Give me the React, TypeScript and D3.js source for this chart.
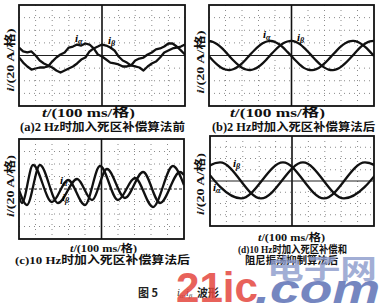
import React from 'react';
import * as d3 from 'd3';

// ---------- data (values in oscilloscope divisions) ----------
const SAMPLE_T = d3.range(0, 10.001, 0.25);

const A_ALPHA = [-0.16, -0.56, -0.87, -1.11, -1.03, -0.95, -0.95, -0.87, -0.48, -0.16, 0.08, 0.24, 0.63, 0.71, 0.87, 0.79, 0.95, 0.87, 0.56, 0.08, -0.08, -0.32, -0.56, -0.63, -0.71, -0.87, -0.87, -0.79, -0.4, -0.24, -0.16, 0.08, 0.24, 0.48, 0.56, 0.71, 0.95, 0.95, 0.71, 0.4, 0.08];
const A_BETA = [0.63, 0.32, 0.24, 0.32, 0, -0.4, -0.63, -0.79, -0.95, -1.19, -1.35, -1.19, -1.03, -0.87, -0.63, -0.32, -0.16, 0.32, 0.56, 0.71, 0.87, 0.79, 0.63, 0.4, -0.08, -0.4, -0.56, -0.79, -0.87, -0.95, -1.19, -0.87, -0.63, -0.48, -0.16, 0.24, 0.4, 0.56, 0.63, 0.71, 0.87];

const B_ALPHA = [-0.07, -0.42, -0.73, -0.97, -1.11, -1.15, -1.07, -0.89, -0.62, -0.29, 0.07, 0.42, 0.73, 0.97, 1.11, 1.15, 1.07, 0.89, 0.62, 0.29,
  -0.05, -0.4, -0.72, -0.98, -1.12, -1.16, -1.08, -0.9, -0.63, -0.3, 0.06, 0.41, 0.72, 0.96, 1.12, 1.16, 1.08, 0.9, 0.64, 0.31, -0.04];
const B_BETA = [1.15, 1.07, 0.89, 0.62, 0.29, -0.07, -0.42, -0.73, -0.97, -1.11, -1.15, -1.07, -0.89, -0.62, -0.29, 0.07, 0.42, 0.73, 0.97, 1.11,
  1.16, 1.08, 0.9, 0.63, 0.3, -0.06, -0.41, -0.72, -0.96, -1.12, -1.16, -1.08, -0.9, -0.63, -0.3, 0.06, 0.42, 0.74, 0.98, 1.12, 1.16];

const C_ALPHA_T = [0, 0.18, 0.85, 2.0, 2.97, 4.0, 4.91, 6.0, 7.03, 8.12, 9.33, 10];
const C_ALPHA_V = [-0.56, -1.12, 1.92, -1.04, 0.72, -1.28, 1.84, -0.88, 0.88, -1.44, 1.84, 0.32];
const C_BETA_T = [0, 0.48, 1.27, 2.36, 3.52, 4.42, 5.33, 6.42, 7.52, 8.55, 9.76, 10];
const C_BETA_V = [-0.08, -1.28, 1.92, -1.12, 0.8, -0.88, 1.6, -0.72, 1.36, -1.12, 1.36, 1.12];

const D_ALPHA_T = [-0.61, 1.89, 4.45, 6.95, 9.45, 11.95];
const D_ALPHA_V = [1.65, -1.55, 1.65, -1.55, 1.65, -1.55];
const D_BETA_T = [-1.89, 0.61, 3.11, 5.67, 8.17, 10.67];
const D_BETA_V = [-1.55, 1.65, -1.55, 1.65, -1.55, 1.65];

const CAPTIONS = ['(a)2 Hz时加入死区补偿算法前', '(b)2 Hz时加入死区补偿算法后', '(c)10 Hz时加入死区补偿算法后', '(d)10 Hz时加入死区补偿和', '阻尼振荡抑制算法后'];
const X_LABEL_UNIT = '/(100 ms/格)';
const Y_LABEL_UNIT = '/(20 A/格)';
const FIG_CAPTION = '图 5';
const FIG_TAIL = '波形';

// ---------- layout ----------
const FONT = '"Liberation Serif","Noto Sans CJK SC",serif';
const CJK = '"Noto Sans CJK SC","Liberation Serif",serif';

const zip = (t: number[], v: number[]) => t.map((tt, i) => [tt, v[i]] as [number, number]);

const PANELS = [
  {
    id: 'a', x0: 19, x1: 185, y0: 5, y1: 106, dashedZero: false, curve: d3.curveLinear,
    series: [zip(SAMPLE_T, A_ALPHA), zip(SAMPLE_T, A_BETA)],
    yl: { x: 10, cy: 60, len: 63 }, xl: { x: 42, y: 117, len: 93, fs: 12 },
    caps: [{ x: 20, y: 131, len: 165, fs: 11.5 }],
    lab: [{ x: 75, y: 42, s: 'α' }, { x: 108, y: 44, s: 'β' }],
  },
  {
    id: 'b', x0: 209, x1: 374, y0: 5, y1: 106, dashedZero: false, curve: d3.curveCatmullRom,
    series: [zip(SAMPLE_T, B_ALPHA), zip(SAMPLE_T, B_BETA)],
    yl: { x: 200, cy: 62, len: 63 }, xl: { x: 230, y: 117, len: 95, fs: 12 },
    caps: [{ x: 212, y: 131, len: 163, fs: 11.5 }],
    lab: [{ x: 263, y: 38, s: 'α' }, { x: 297, y: 41, s: 'β' }],
  },
  {
    id: 'c', x0: 19, x1: 184, y0: 139, y1: 239, dashedZero: true, curve: d3.curveMonotoneX,
    series: [zip(C_ALPHA_T, C_ALPHA_V), zip(C_BETA_T, C_BETA_V)],
    yl: { x: 10, cy: 186, len: 62 }, xl: { x: 70, y: 252, len: 67, fs: 10 },
    caps: [{ x: 15, y: 264, len: 175, fs: 11 }],
    lab: [{ x: 60, y: 184, s: 'α' }, { x: 62, y: 201, s: 'β' }],
  },
  {
    id: 'd', x0: 210, x1: 374, y0: 136, y1: 226, dashedZero: false, curve: d3.curveMonotoneX,
    series: [zip(D_ALPHA_T, D_ALPHA_V), zip(D_BETA_T, D_BETA_V)],
    yl: { x: 200, cy: 184, len: 62 }, xl: { x: 258, y: 241, len: 67, fs: 10 },
    caps: [{ x: 238, y: 253, len: 109, fs: 10.5 }, { x: 245, y: 264, len: 93, fs: 10.5 }],
    lab: [{ x: 213, y: 191, s: 'α' }, { x: 233, y: 167, s: 'β' }],
  },
];

function Panel({ p, capStart }: { p: any; capStart: number }) {
  const x = d3.scaleLinear().domain([0, 10]).range([p.x0, p.x1]);
  const y = d3.scaleLinear().domain([-4, 4]).range([p.y1, p.y0]);
  const line = d3.line<[number, number]>().x(d => x(d[0])).y(d => y(d[1])).curve(p.curve);
  const vGrid = d3.range(1, 10).filter(v => v !== 5);
  const hGrid = d3.range(-3, 4).filter(v => v !== 0);
  return (
    <g>
      <defs>
        <clipPath id={`clip-${p.id}`}>
          <rect x={p.x0} y={p.y0} width={p.x1 - p.x0} height={p.y1 - p.y0} />
        </clipPath>
      </defs>
      {vGrid.map(v => (
        <line key={`v${v}`} x1={x(v)} x2={x(v)} y1={p.y0} y2={p.y1} stroke="#8a8a8a" strokeWidth={1} strokeDasharray="1 4" />
      ))}
      {hGrid.map(v => (
        <line key={`h${v}`} x1={p.x0} x2={p.x1} y1={y(v)} y2={y(v)} stroke="#8a8a8a" strokeWidth={1} strokeDasharray="1 4" />
      ))}
      <line x1={x(5)} x2={x(5)} y1={p.y0} y2={p.y1} stroke="#111" strokeWidth={1.6} />
      <line x1={p.x0} x2={p.x1} y1={y(0)} y2={y(0)} stroke="#222" strokeWidth={1.2}
        strokeDasharray={p.dashedZero ? '3 2' : undefined} />
      <g clipPath={`url(#clip-${p.id})`}>
        {p.series.map((s: [number, number][], i: number) => (
          <path key={i} d={line(s) || ''} fill="none" stroke="#111" strokeWidth={2.3} strokeLinejoin="round" />
        ))}
      </g>
      <rect x={p.x0} y={p.y0} width={p.x1 - p.x0} height={p.y1 - p.y0} fill="none" stroke="#111" strokeWidth={1.8} />
      {p.lab.map((l: any, i: number) => (
        <text key={i} x={l.x} y={l.y} fontFamily={FONT} fontSize={11} fontWeight="bold" fontStyle="italic" fill="#000">
          i<tspan fontSize={8} dy={2}>{l.s}</tspan>
        </text>
      ))}
      <text transform={`translate(${p.yl.x},${p.yl.cy}) rotate(-90)`} textAnchor="middle" dominantBaseline="central"
        fontFamily={FONT} fontSize={11} fontWeight="bold" fill="#111" textLength={p.yl.len} lengthAdjust="spacingAndGlyphs">
        <tspan fontStyle="italic">i</tspan>{Y_LABEL_UNIT}
      </text>
      <text x={p.xl.x} y={p.xl.y} fontFamily={FONT} fontSize={p.xl.fs} fontWeight="bold" fill="#111"
        textLength={p.xl.len} lengthAdjust="spacingAndGlyphs">
        <tspan fontStyle="italic">t</tspan>{X_LABEL_UNIT}
      </text>
      {p.caps.map((c: any, i: number) => (
        <text key={i} x={c.x} y={c.y} fontFamily={FONT} fontSize={c.fs} fontWeight="bold" fill="#111"
          textLength={c.len} lengthAdjust="spacingAndGlyphs">
          {CAPTIONS[capStart + i]}
        </text>
      ))}
    </g>
  );
}

export default function App() {
  const capStarts = [0, 1, 2, 3];
  return (
    <svg width={380} height={306} style={{ position: 'absolute', left: 0, top: 0, background: '#fff' }}>
      <rect width={380} height={306} fill="#fff" />
      {PANELS.map((p, i) => <Panel key={p.id} p={p} capStart={capStarts[i]} />)}
      <text x={138} y={297} fontFamily={CJK} fontSize={11} fontWeight="bold" fill="#222">{FIG_CAPTION}</text>
      <text x={177} y={296} fontFamily={FONT} fontSize={10} fontStyle="italic" fill="#333">
        i<tspan fontSize={7} dy={2}>α</tspan><tspan dy={-2}>,i</tspan><tspan fontSize={7} dy={2}>β</tspan>
      </text>
      <text x={197} y={297} fontFamily={CJK} fontSize={11} fontWeight="bold" fill="#222">{FIG_TAIL}</text>
      {/* watermark */}
      <text x={267} y={279} fontFamily={CJK} fontSize={27} fontWeight="bold" fill="#8b9acb" opacity={0.8}
        textLength={110} lengthAdjust="spacingAndGlyphs">电子网</text>
      <text x={176} y={302} fontFamily='"Liberation Sans",sans-serif' fontSize={43} fontWeight="bold" fill="#e4473f" opacity={0.85}
        textLength={82} lengthAdjust="spacingAndGlyphs">21ic</text>
      <text x={255} y={303} fontFamily='"Liberation Sans",sans-serif' fontSize={40} fontWeight="bold" fontStyle="italic" fill="#5d72b6" opacity={0.85}
        textLength={125} lengthAdjust="spacingAndGlyphs">.com</text>
    </svg>
  );
}
